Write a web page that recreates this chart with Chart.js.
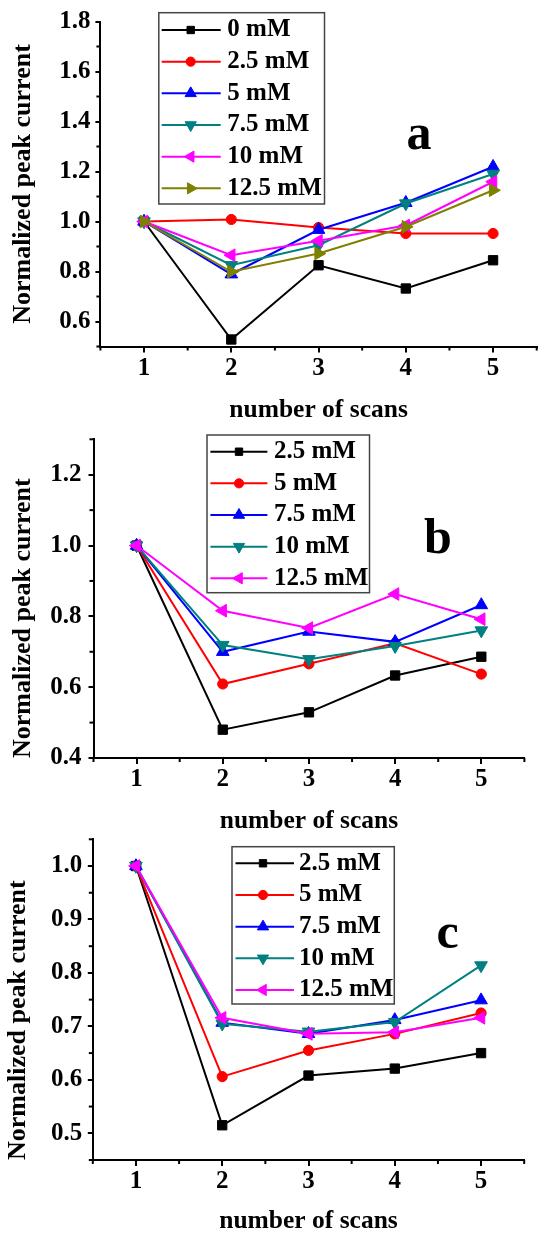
<!DOCTYPE html>
<html>
<head>
<meta charset="utf-8">
<script src="https://cdn.jsdelivr.net/npm/chart.js@4.4.0/dist/chart.umd.min.js"></script>
<style>
html,body{margin:0;padding:0;background:#fff;width:539px;height:1234px;overflow:hidden;position:relative}
canvas{position:absolute;left:0}
</style>
</head>
<body>
<canvas id="ca" width="545" height="430" style="top:0px"></canvas>
<canvas id="cb" width="539" height="420" style="top:420px"></canvas>
<canvas id="cc" width="539" height="404" style="top:830px"></canvas>
<script>
// ---------- data ----------
const scans = [1, 2, 3, 4, 5];
const xTickValues = [1, 2, 3, 4, 5];
const xTickLabels = ['1', '2', '3', '4', '5'];
const xMinor = [0.5, 1.5, 2.5, 3.5, 4.5, 5.5];

// panel a
const seriesA = ['0 mM', '2.5 mM', '5 mM', '7.5 mM', '10 mM', '12.5 mM'];
const a_0   = [1.0, 0.528, 0.825, 0.732, 0.845];
const a_2_5 = [1.0, 1.008, 0.976, 0.952, 0.952];
const a_5   = [1.0, 0.789, 0.967, 1.075, 1.219];
const a_7_5 = [1.0, 0.825, 0.905, 1.072, 1.190];
const a_10  = [1.0, 0.865, 0.923, 0.984, 1.159];
const a_12_5= [1.0, 0.799, 0.872, 0.979, 1.125];
const yTicksA = [0.6, 0.8, 1.0, 1.2, 1.4, 1.6, 1.8];
const yLabelsA = ['0.6', '0.8', '1.0', '1.2', '1.4', '1.6', '1.8'];
const yMinorA = [0.5, 0.7, 0.9, 1.1, 1.3, 1.5, 1.7];

// panel b
const seriesB = ['2.5 mM', '5 mM', '7.5 mM', '10 mM', '12.5 mM'];
const b_2_5 = [1.0, 0.480, 0.529, 0.633, 0.686];
const b_5   = [1.0, 0.609, 0.666, 0.724, 0.637];
const b_7_5 = [1.0, 0.700, 0.757, 0.728, 0.832];
const b_10  = [1.0, 0.719, 0.679, 0.716, 0.760];
const b_12_5= [1.0, 0.816, 0.767, 0.863, 0.792];
const yTicksB = [0.4, 0.6, 0.8, 1.0, 1.2];
const yLabelsB = ['0.4', '0.6', '0.8', '1.0', '1.2'];
const yMinorB = [0.5, 0.7, 0.9, 1.1, 1.3];

// panel c
const seriesC = ['2.5 mM', '5 mM', '7.5 mM', '10 mM', '12.5 mM'];
const c_2_5 = [1.0, 0.515, 0.608, 0.621, 0.650];
const c_5   = [1.0, 0.606, 0.655, 0.686, 0.725];
const c_7_5 = [1.0, 0.707, 0.686, 0.712, 0.749];
const c_10  = [1.0, 0.705, 0.690, 0.708, 0.814];
const c_12_5= [1.0, 0.716, 0.686, 0.689, 0.716];
const yTicksC = [0.5, 0.6, 0.7, 0.8, 0.9, 1.0];
const yLabelsC = ['0.5', '0.6', '0.7', '0.8', '0.9', '1.0'];
const yMinorC = [0.45, 0.55, 0.65, 0.75, 0.85, 0.95, 1.05];

// ---------- styles ----------
const FONT = '"Liberation Serif", "Times New Roman", serif';
const colorsA = ['#000000', '#FF0000', '#0000FF', '#008080', '#FF00FF', '#808000'];
const markersA = ['rect', 'circle', 'triangle', 'triangle', 'triangle', 'triangle'];
const rotA = [0, 0, 0, 180, -90, 90];
const radA = [6.6, 5.1, 7.3, 7.3, 7.3, 7.3];
const legRadA = [5.2, 4.6, 6.5, 6.5, 6.5, 6.5];
const colorsBC = ['#000000', '#FF0000', '#0000FF', '#008080', '#FF00FF'];
const markersBC = ['rect', 'circle', 'triangle', 'triangle', 'triangle'];
const rotBC = [0, 0, 0, 180, -90];
const radBC = [6.6, 5.1, 7.3, 7.3, 7.3];
const legRadBC = [5.2, 4.6, 6.5, 6.5, 6.5];

const extrasPlugin = {
  id: 'panelExtras',
  afterDraw(chart, args, opts) {
    const p = opts.p;
    const ctx = chart.ctx, xs = chart.scales.x, ys = chart.scales.y;
    ctx.save();
    ctx.strokeStyle = '#000'; ctx.lineWidth = 2;
    p.xMinor.forEach(v => {
      const px = xs.getPixelForValue(v);
      ctx.beginPath(); ctx.moveTo(px, xs.top); ctx.lineTo(px, xs.top + 4); ctx.stroke();
    });
    p.yMinor.forEach(v => {
      const py = ys.getPixelForValue(v);
      ctx.beginPath(); ctx.moveTo(ys.right, py); ctx.lineTo(ys.right - 4, py); ctx.stroke();
    });
    // legend
    const L = p.legend;
    ctx.fillStyle = '#fff'; ctx.fillRect(L.x, L.y, L.w, L.h);
    ctx.strokeStyle = '#444'; ctx.lineWidth = 1.5; ctx.strokeRect(L.x, L.y, L.w, L.h);
    chart.data.datasets.forEach((ds, i) => {
      const cy = L.row0 + i * L.step;
      ctx.strokeStyle = ds.borderColor; ctx.lineWidth = 2;
      ctx.beginPath(); ctx.moveTo(L.x + L.line0, cy); ctx.lineTo(L.x + L.line1, cy); ctx.stroke();
      ctx.fillStyle = ds.backgroundColor; ctx.strokeStyle = ds.borderColor; ctx.lineWidth = 1;
      Chart.helpers.drawPoint(ctx, {pointStyle: ds.pointStyle, rotation: ds.pointRotation, radius: p.legRad[i], borderWidth: 1}, L.x + L.mk, cy);
      ctx.fillStyle = '#000'; ctx.font = 'bold 25px ' + FONT;
      ctx.textBaseline = 'middle'; ctx.textAlign = 'left';
      ctx.fillText(ds.label, L.x + L.tx, cy);
    });
    // panel letter
    ctx.fillStyle = '#000';
    ctx.font = 'bold 50px ' + FONT; ctx.textAlign = 'center'; ctx.textBaseline = 'alphabetic';
    ctx.fillText(p.letter, p.lx, p.ly);
    ctx.restore();
  }
};

function makePanel(p) {
  const n = p.series.length;
  const datasets = p.series.map((name, i) => ({
    label: name,
    data: scans.map((x, k) => ({x: x, y: p.values[i][k]})),
    borderColor: p.colors[i], backgroundColor: p.colors[i],
    pointBackgroundColor: p.colors[i], pointBorderColor: p.colors[i],
    borderWidth: 2, pointStyle: p.markers[i], pointRotation: p.rot[i],
    pointRadius: p.rad[i], pointBorderWidth: 1, pointHoverRadius: p.rad[i],
    tension: 0, fill: false, order: n - i, clip: false
  }));
  const tickFont = {family: FONT, size: 25, weight: 'bold', lineHeight: 1};
  const xTitleFont = {family: FONT, size: 25.5, weight: 'bold', lineHeight: 1};
  const yTitleFont = {family: FONT, size: 26, weight: 'bold', lineHeight: 1};
  new Chart(document.getElementById(p.id), {
    type: 'line',
    data: {datasets: datasets},
    options: {
      responsive: false, animation: false, devicePixelRatio: 1,
      layout: {padding: {left: 0, top: p.top, right: p.w - p.right, bottom: 0}},
      plugins: {legend: {display: false}, tooltip: {enabled: false}, panelExtras: {p: p}},
      scales: {
        x: {
          type: 'linear', position: 'bottom', min: 0.5, max: 5.5,
          afterBuildTicks: s => { s.ticks = xTickValues.map(v => ({value: v})); },
          afterFit: s => { s.height = p.h - p.bottom; s.paddingLeft = 0; s.paddingRight = 0; },
          ticks: {font: tickFont, color: '#000', padding: p.xTickPad, maxRotation: 0, minRotation: 0, autoSkip: false,
                  callback: (v, i) => xTickLabels[i]},
          grid: {drawOnChartArea: false, drawTicks: true, tickLength: 6, tickWidth: 2, tickColor: '#000', color: '#000', lineWidth: 2},
          border: {display: true, color: '#000', width: 2},
          title: {display: true, text: 'number of scans', color: '#000', font: xTitleFont, padding: {top: 0, bottom: p.xTitlePad}}
        },
        y: {
          type: 'linear', position: 'left', min: p.ymin, max: p.ymax,
          afterBuildTicks: s => { s.ticks = p.yTicks.map(v => ({value: v})); },
          afterFit: s => { s.width = p.left; s.paddingTop = 0; s.paddingBottom = 0; },
          ticks: {font: tickFont, color: '#000', padding: p.yTickPad, autoSkip: false,
                  callback: (v, i) => p.yLabels[i]},
          grid: {drawOnChartArea: false, drawTicks: true, tickLength: 5, tickWidth: 2, tickColor: '#000', color: '#000', lineWidth: 2},
          border: {display: true, color: '#000', width: 2},
          title: {display: true, text: 'Normalized peak current', color: '#000', font: yTitleFont, align: p.yTitleAlign, padding: {top: p.yTitlePad, bottom: 0}}
        }
      }
    },
    plugins: [extrasPlugin]
  });
}

makePanel({
  id: 'ca', w: 545, h: 430, left: 100.4, right: 541.5, top: 21.5, bottom: 346.5,
  ymin: 0.5, ymax: 1.8, yTicks: yTicksA, yLabels: yLabelsA, yMinor: yMinorA, xMinor: xMinor,
  series: seriesA, values: [a_0, a_2_5, a_5, a_7_5, a_10, a_12_5],
  colors: colorsA, markers: markersA, rot: rotA, rad: radA, legRad: legRadA,
  xTickPad: 4, yTickPad: 5, xTitlePad: 7.25, yTitlePad: 10, yTitleAlign: 'center',
  legend: {x: 158.8, y: 12.7, w: 165.7, h: 191.3, row0: 30, step: 31.67, line0: 2.9, line1: 61.9, mk: 31.9, tx: 68.5},
  letter: 'a', lx: 419, ly: 149
});

makePanel({
  id: 'cb', w: 539, h: 420, left: 93.5, right: 524.4, top: 19.3, bottom: 338,
  ymin: 0.4, ymax: 1.3, yTicks: yTicksB, yLabels: yLabelsB, yMinor: yMinorB, xMinor: xMinor,
  series: seriesB, values: [b_2_5, b_5, b_7_5, b_10, b_12_5],
  colors: colorsBC, markers: markersBC, rot: rotBC, rad: radBC, legRad: legRadBC,
  xTickPad: 3.5, yTickPad: 7, xTitlePad: 6.25, yTitlePad: 10, yTitleAlign: 'start',
  legend: {x: 207, y: 15, w: 162.5, h: 157.7, row0: 31.7, step: 31.65, line0: 3.4, line1: 60.4, mk: 32, tx: 67},
  letter: 'b', lx: 438, ly: 133
});

makePanel({
  id: 'cc', w: 539, h: 404, left: 92.8, right: 524.2, top: 9.3, bottom: 330,
  ymin: 0.45, ymax: 1.05, yTicks: yTicksC, yLabels: yLabelsC, yMinor: yMinorC, xMinor: xMinor,
  series: seriesC, values: [c_2_5, c_5, c_7_5, c_10, c_12_5],
  colors: colorsBC, markers: markersBC, rot: rotBC, rad: radBC, legRad: legRadBC,
  xTickPad: 3, yTickPad: 5.5, xTitlePad: 0, yTitlePad: 5, yTitleAlign: 'start',
  legend: {x: 232, y: 16.7, w: 162.3, h: 157.3, row0: 33.3, step: 31.67, line0: 3.5, line1: 62, mk: 31, tx: 67},
  letter: 'c', lx: 447.6, ly: 118.3
});
</script>
</body>
</html>
